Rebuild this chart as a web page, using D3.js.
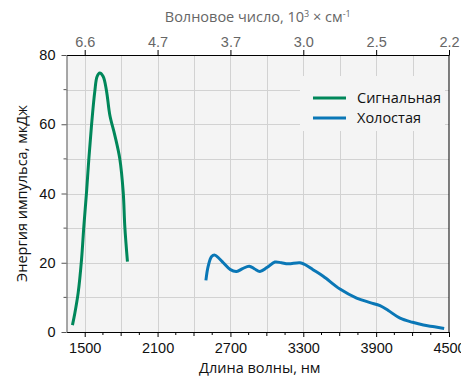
<!DOCTYPE html>
<html>
<head>
<meta charset="utf-8">
<script src="https://cdn.jsdelivr.net/npm/d3@7"></script>
<style>
  body { margin: 0; background: #fff; }
  svg { font-family: "Open Sans", "Noto Sans", sans-serif; }
</style>
</head>
<body>
<svg id="chart" width="461" height="379"></svg>
<script>
// signal wave (nm, uJ)
const signalNm = [1399, 1419, 1446, 1474, 1493, 1515, 1534, 1556, 1583, 1602, 1624, 1652, 1680, 1707, 1748, 1789, 1817, 1830, 1852];
const signalE  = [2.0, 5.5, 11.3, 21, 30.6, 40.4, 50, 59.7, 69.5, 73.8, 74.8, 73.8, 69.5, 62.6, 56.8, 50, 40.4, 30.6, 20.3];
// idler wave
const idlerNm = [2498, 2517, 2545, 2572, 2605, 2641, 2700, 2751, 2800, 2855, 2900, 2943, 3000, 3066, 3120, 3175, 3272, 3313, 3380, 3464, 3602, 3739, 3850, 3932, 4000, 4097, 4200, 4289, 4380, 4460];
const idlerE  = [14.9, 19, 21.8, 22.2, 21.3, 20, 18, 17.5, 18.3, 19, 18.2, 17.5, 18.6, 20.2, 20, 19.7, 20, 19.5, 18, 16.1, 12.4, 9.8, 8.5, 7.6, 6.2, 4, 2.8, 2, 1.5, 1.0];

const seriesNames = ['Сигнальная', 'Холостая'];
const seriesColors = ['#00875a', '#0a77b6'];

const xTicks = [1500, 2100, 2700, 3300, 3900, 4500];
const topTickLabels = ['6.6', '4.7', '3.7', '3.0', '2.5', '2.2'];
const yTicks = [0, 20, 40, 60, 80];

const svg = d3.select('#chart');
const mLeft = 66.5, mRight = 449, mTop = 55, mBottom = 332;
const fs = 14.5;

const x = d3.scaleLinear().domain([1350, 4500]).range([mLeft, mRight]);
const y = d3.scaleLinear().domain([0, 80]).range([mBottom, mTop]);

svg.append('rect')
  .attr('x', mLeft).attr('y', mTop)
  .attr('width', mRight - mLeft).attr('height', mBottom - mTop)
  .attr('fill', '#f4f4f4');

// grid
const grid = svg.append('g').attr('stroke', '#d2d2d2').attr('stroke-width', 1);
grid.selectAll('line.v').data(d3.range(1500, 4500, 300)).enter()
  .append('line').attr('class', 'v')
  .attr('x1', d => Math.round(x(d)) + 0.5).attr('x2', d => Math.round(x(d)) + 0.5)
  .attr('y1', mTop).attr('y2', mBottom);
grid.selectAll('line.h').data(d3.range(10, 80, 10)).enter()
  .append('line').attr('class', 'h')
  .attr('y1', d => Math.round(y(d)) + 0.5).attr('y2', d => Math.round(y(d)) + 0.5)
  .attr('x1', mLeft).attr('x2', mRight);

// curves
const line = d3.line()
  .x(d => x(d[0]))
  .y(d => y(d[1]))
  .curve(d3.curveCatmullRom.alpha(0.5));

const series = [
  d3.zip(signalNm, signalE),
  d3.zip(idlerNm, idlerE)
];

svg.append('g').selectAll('path')
  .data(series).enter()
  .append('path')
  .attr('d', line)
  .attr('fill', 'none')
  .attr('stroke', (d, i) => seriesColors[i])
  .attr('stroke-width', 3)
  .attr('stroke-linejoin', 'round')
  .attr('stroke-linecap', 'butt');

// legend
const lg = svg.append('g');
lg.append('rect')
  .attr('x', 300).attr('y', 76).attr('width', 145).attr('height', 55)
  .attr('fill', '#f4f4f4');
seriesNames.forEach((name, i) => {
  const yy = 98 + i * 20;
  lg.append('line')
    .attr('x1', 313).attr('x2', 346)
    .attr('y1', yy).attr('y2', yy)
    .attr('stroke', seriesColors[i]).attr('stroke-width', 3);
  lg.append('text')
    .attr('x', 357).attr('y', yy)
    .attr('dy', '0.35em')
    .attr('font-size', fs)
    .attr('fill', '#111')
    .text(name);
});

// bottom axis
const xAxis = svg.append('g')
  .attr('transform', `translate(0,${mBottom})`)
  .call(d3.axisBottom(x).tickValues(xTicks).tickSize(5).tickSizeOuter(0).tickFormat(d3.format('d')));
xAxis.selectAll('text').attr('font-size', fs).attr('fill', '#111').attr('dy', '0.9em');
xAxis.select('.domain').attr('stroke', '#000');

const xMinor = svg.append('g').attr('stroke', '#000');
xMinor.selectAll('line').data(d3.range(1500, 4500, 150).filter(d => (d - 1500) % 600 !== 0)).enter()
  .append('line')
  .attr('x1', d => x(d)).attr('x2', d => x(d))
  .attr('y1', mBottom).attr('y2', d => mBottom + ((d - 1500) % 300 === 0 ? 4 : 3));

// top axis (wavenumber)
const xTop = svg.append('g')
  .attr('transform', `translate(0,${mTop})`)
  .call(d3.axisTop(x).tickValues(xTicks).tickSize(5).tickSizeOuter(0)
    .tickFormat((d, i) => topTickLabels[i]));
xTop.selectAll('text').attr('font-size', fs).attr('fill', '#666');
xTop.select('.domain').attr('stroke', '#000');

// left axis
const yAxis = svg.append('g')
  .attr('transform', `translate(${mLeft},0)`)
  .call(d3.axisLeft(y).tickValues(yTicks).tickSize(5).tickPadding(6).tickSizeOuter(0));
yAxis.selectAll('text').attr('font-size', fs).attr('fill', '#111');
yAxis.select('.domain').attr('stroke', '#555');
yAxis.selectAll('.tick line').attr('stroke', '#555');
svg.append('g').attr('stroke', '#555').selectAll('line')
  .data(d3.range(10, 80, 20)).enter()
  .append('line')
  .attr('x1', mLeft - 3).attr('x2', mLeft)
  .attr('y1', d => y(d)).attr('y2', d => y(d));

// right frame
svg.append('line')
  .attr('x1', mRight).attr('x2', mRight)
  .attr('y1', mTop).attr('y2', mBottom)
  .attr('stroke', '#000');

// titles
svg.append('text')
  .attr('x', (mLeft + mRight) / 2 + 2).attr('y', 373)
  .attr('text-anchor', 'middle')
  .attr('font-size', fs).attr('fill', '#111')
  .text('Длина волны, нм');

svg.append('text')
  .attr('transform', `translate(27,${(mTop + mBottom) / 2}) rotate(-90)`)
  .attr('text-anchor', 'middle')
  .attr('font-size', fs).attr('fill', '#111')
  .text('Энергия импульса, мкДж');

const tt = svg.append('text')
  .attr('x', (mLeft + mRight) / 2).attr('y', 22)
  .attr('text-anchor', 'middle')
  .attr('font-size', fs).attr('fill', '#666');
tt.append('tspan').text('Волновое число, 10');
tt.append('tspan').attr('dy', -5).attr('font-size', 9).text('3');
tt.append('tspan').attr('dy', 5).text(' × см');
tt.append('tspan').attr('dy', -5).attr('font-size', 9).text('-1');
</script>
</body>
</html>
